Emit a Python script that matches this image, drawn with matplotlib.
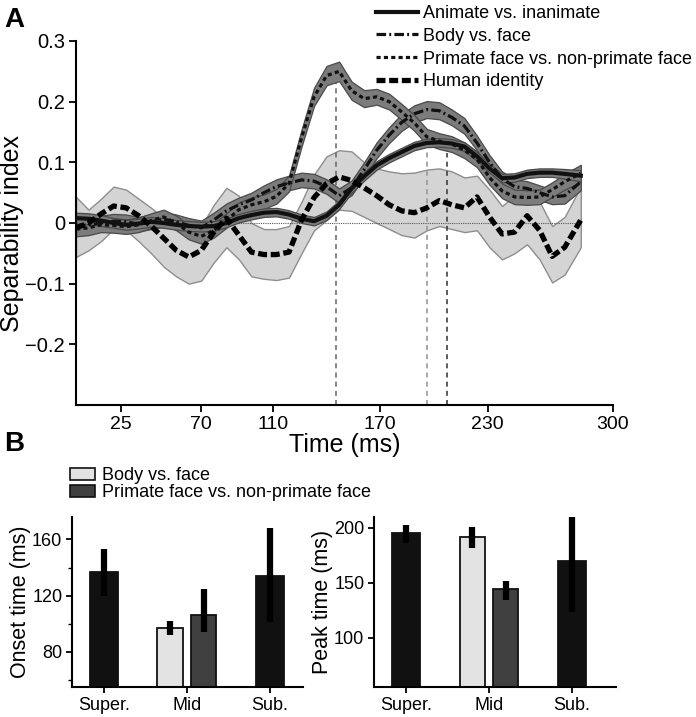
import matplotlib
matplotlib.use("Agg")
import matplotlib.pyplot as plt
from matplotlib.lines import Line2D
from matplotlib.patches import Patch
import numpy as np

plt.rcParams['font.family'] = ['Liberation Sans', 'DejaVu Sans']

# ---- panel A data (time in ms) ----
times = [0, 7, 14, 21, 28, 35, 42, 49, 56, 63, 70, 77, 84, 91, 98, 105, 112, 119, 126, 133,
         140, 147, 154, 161, 168, 175, 182, 189, 196, 203, 210, 217, 224, 231, 238, 245, 252,
         259, 266, 273, 282]

animate = [0.008, 0.007, 0.004, 0.0, -0.003, -0.001, 0.002, 0.0, -0.003, -0.005, -0.006, -0.005,
           0.0, 0.008, 0.013, 0.017, 0.018, 0.014, 0.007, 0.003, 0.012, 0.03, 0.057, 0.077, 0.095,
           0.107, 0.117, 0.127, 0.132, 0.133, 0.131, 0.126, 0.11, 0.09, 0.074, 0.075, 0.081, 0.083,
           0.083, 0.081, 0.078]
animate_ci = [0.009, 0.009, 0.009, 0.008, 0.008, 0.008, 0.008, 0.008, 0.008, 0.008, 0.008, 0.008,
              0.007, 0.007, 0.007, 0.007, 0.007, 0.007, 0.007, 0.007, 0.007, 0.007, 0.007, 0.007,
              0.007, 0.007, 0.007, 0.007, 0.007, 0.007, 0.007, 0.007, 0.007, 0.007, 0.007, 0.007,
              0.007, 0.007, 0.007, 0.008, 0.009]

body = [-0.005, -0.003, 0.0, 0.003, 0.002, -0.002, 0.002, 0.006, 0.002, -0.004, -0.008, 0.005,
        0.02, 0.03, 0.038, 0.05, 0.06, 0.066, 0.071, 0.069, 0.06, 0.045, 0.058, 0.088, 0.12,
        0.145, 0.166, 0.18, 0.187, 0.185, 0.174, 0.16, 0.132, 0.1, 0.073, 0.06, 0.057, 0.05,
        0.043, 0.045, 0.068]
body_ci = [0.012, 0.012, 0.012, 0.012, 0.012, 0.012, 0.012, 0.012, 0.012, 0.012, 0.012, 0.012,
           0.012, 0.012, 0.012, 0.012, 0.012, 0.012, 0.012, 0.012, 0.012, 0.012, 0.012, 0.012,
           0.013, 0.013, 0.014, 0.014, 0.014, 0.014, 0.013, 0.013, 0.012, 0.012, 0.012, 0.012,
           0.012, 0.012, 0.012, 0.013, 0.014]

primate = [-0.01, -0.008, -0.003, -0.004, -0.006, -0.003, 0.004, 0.01, 0.0, -0.015, -0.022,
           -0.012, 0.004, 0.022, 0.03, 0.035, 0.044, 0.065, 0.14, 0.208, 0.243, 0.25, 0.218,
           0.205, 0.208, 0.2, 0.183, 0.165, 0.142, 0.135, 0.13, 0.12, 0.105, 0.075, 0.053, 0.043,
           0.042, 0.043, 0.055, 0.068, 0.082]
primate_ci = [0.012, 0.012, 0.012, 0.012, 0.012, 0.012, 0.012, 0.012, 0.012, 0.012, 0.012, 0.012,
              0.012, 0.012, 0.012, 0.012, 0.012, 0.013, 0.014, 0.015, 0.016, 0.016, 0.015, 0.014,
              0.013, 0.013, 0.013, 0.013, 0.013, 0.013, 0.013, 0.013, 0.013, 0.012, 0.012, 0.012,
              0.012, 0.012, 0.012, 0.013, 0.014]

human = [-0.008, 0.0, 0.015, 0.028, 0.025, 0.012, -0.005, -0.025, -0.045, -0.056, -0.045,
         -0.015, 0.008, -0.02, -0.048, -0.052, -0.052, -0.048, 0.005, 0.042, 0.065, 0.076, 0.07,
         0.058, 0.045, 0.03, 0.02, 0.017, 0.025, 0.037, 0.03, 0.025, 0.043, 0.01, -0.018, -0.015,
         0.012, -0.012, -0.055, -0.04, 0.005]
human_upper = [0.043, 0.022, 0.04, 0.06, 0.055, 0.04, 0.025, 0.008, -0.005, -0.012, -0.005, 0.03,
               0.058, 0.045, 0.0, -0.01, -0.01, -0.005, 0.035, 0.08, 0.11, 0.12, 0.118, 0.1, 0.09,
               0.085, 0.082, 0.083, 0.088, 0.09, 0.085, 0.075, 0.078, 0.055, 0.028, 0.045, 0.06,
               0.035, -0.005, 0.01, 0.06]
human_lower = [-0.056, -0.045, -0.03, -0.01, -0.012, -0.03, -0.05, -0.072, -0.088, -0.1, -0.095,
               -0.065, -0.04, -0.06, -0.088, -0.092, -0.094, -0.09, -0.05, -0.012, 0.005, 0.022,
               0.02, 0.01, 0.0, -0.01, -0.02, -0.024, -0.012, -0.005, -0.01, -0.015, -0.012, -0.04,
               -0.06, -0.05, -0.035, -0.06, -0.098, -0.085, -0.04]

peak_times = [145, 196, 207]
peak_tops = [0.24, 0.12, 0.115]
peak_colors = ['#6e6e6e', '#9a9a9a', '#404040']

xticks_a = [25, 70, 110, 170, 230, 300]
yticks_a = [-0.2, -0.1, 0, 0.1, 0.2, 0.3]
yticklabels_a = ['\u22120.2', '\u22120.1', '0', '0.1', '0.2', '0.3']

legend_a = ['Animate vs. inanimate', 'Body vs. face',
            'Primate face vs. non-primate face', 'Human identity']

# ---- panel B data ----
categories = ['Super.', 'Mid', 'Sub.']
onset_super, onset_super_err = 137, (17, 16)
onset_body, onset_body_err = 97, (5, 5)
onset_primate, onset_primate_err = 106, (12, 19)
onset_sub, onset_sub_err = 134, (33, 34)

peak_super, peak_super_err = 195, (9, 8)
peak_body, peak_body_err = 192, (10, 9)
peak_primate, peak_primate_err = 144, (10, 8)
peak_sub, peak_sub_err = 170, (47, 45)

legend_b = ['Body vs. face', 'Primate face vs. non-primate face']

# ---- figure ----
fig = plt.figure(figsize=(6.96, 7.17), dpi=100)
W, H = 696.0, 717.0

axA = fig.add_axes([76 / W, 1 - 405 / H, 537 / W, 364 / H])
t = np.array(times)

axA.fill_between(t, human_lower, human_upper, facecolor='#d4d4d4', edgecolor='#8e8e8e',
                 linewidth=1.0, zorder=1)
axA.plot([0, 282], [0, 0], color='#555555', linestyle=(0, (1, 1)), linewidth=0.8, zorder=1.5)
for i in range(len(peak_times)):
    axA.plot([peak_times[i], peak_times[i]], [-0.3, peak_tops[i]], color=peak_colors[i],
             linestyle=(0, (3, 2.5)), linewidth=1.2, zorder=1.6)

for mean, ci in [(body, body_ci), (primate, primate_ci), (animate, animate_ci)]:
    m = np.array(mean)
    c = np.array(ci)
    axA.fill_between(t, m - c, m + c, facecolor='#7c7c7c', edgecolor='#4a4a4a',
                     linewidth=0.9, zorder=2)

style_animate = dict(color='#111111', linestyle='-', linewidth=3.0)
style_body = dict(color='#111111', linestyle=(0, (3, 1.0, 0.6, 1.0)), linewidth=2.3)
style_primate = dict(color='#111111', linestyle=(0, (1.3, 1.0)), linewidth=2.3)
style_human = dict(color='#000000', linestyle=(0, (1.7, 0.7)), linewidth=3.8)

axA.plot(t, animate, zorder=3, **style_animate)
axA.plot(t, body, zorder=3, **style_body)
axA.plot(t, primate, zorder=3, **style_primate)
axA.plot(t, human, zorder=4, **style_human)

axA.set_xlim(0, 300)
axA.set_ylim(-0.3, 0.3)
axA.set_xticks(xticks_a)
axA.set_xticklabels([str(v) for v in xticks_a], fontsize=14)
axA.set_yticks(yticks_a)
axA.set_yticklabels(yticklabels_a, fontsize=14.5)
axA.spines['top'].set_visible(False)
axA.spines['right'].set_visible(False)
for s in ['left', 'bottom']:
    axA.spines[s].set_linewidth(1.5)
axA.tick_params(width=1.3, length=5, pad=3)
axA.set_xlabel('Time (ms)', fontsize=18, labelpad=0)
axA.set_ylabel('Separability index', fontsize=18)
axA.yaxis.set_label_coords((24 - 76) / 537, (405 - 233) / 364)

handles_a = [Line2D([], [], **style_animate), Line2D([], [], **style_body),
             Line2D([], [], **style_primate), Line2D([], [], **style_human)]
axA.legend(handles_a, legend_a, loc='upper left', bbox_to_anchor=(376 / W, 1 - 5 / H),
           bbox_transform=fig.transFigure, frameon=False, fontsize=13,
           handlelength=2.3, handletextpad=0.3, labelspacing=0.32, borderpad=0,
           borderaxespad=0)

fig.text(4 / W, 1 - 27 / H, 'A', fontsize=20, fontweight='bold')
fig.text(4 / W, 1 - 451 / H, 'B', fontsize=20, fontweight='bold')

# ---- panel B ----
dark = '#111111'
light = '#e3e3e3'
mid = '#404040'


def bar_panel(ax, vals, errs, ylim, yticks, minor, ylabel):
    xs = [0, 1 - 0.2, 1 + 0.2, 2]
    widths = [0.34, 0.31, 0.31, 0.34]
    colors = [dark, light, mid, dark]
    ax.bar(xs, vals, width=widths, color=colors, edgecolor='#111111', linewidth=1.3, zorder=2)
    lo = [e[0] for e in errs]
    hi = [e[1] for e in errs]
    ax.errorbar(xs, vals, yerr=[lo, hi], fmt='none', ecolor='#000000', elinewidth=4.5,
                capsize=0, zorder=3)
    ax.set_ylim(*ylim)
    ax.set_yticks(yticks)
    ax.set_yticklabels([str(v) for v in yticks], fontsize=13)
    if minor:
        ax.set_yticks(minor, minor=True)
    ax.set_xticks([0, 1, 2])
    ax.set_xticklabels(categories, fontsize=13)
    ax.spines['top'].set_visible(False)
    ax.spines['right'].set_visible(False)
    for s in ['left', 'bottom']:
        ax.spines[s].set_linewidth(1.5)
    ax.tick_params(width=1.3, length=4, pad=3)
    ax.tick_params(which='minor', width=1.0, length=3)
    ax.set_ylabel(ylabel, fontsize=15.5, labelpad=1)


axB1 = fig.add_axes([72 / W, 1 - 687 / H, 231 / W, 170 / H])
bar_panel(axB1, [onset_super, onset_body, onset_primate, onset_sub],
          [onset_super_err, onset_body_err, onset_primate_err, onset_sub_err],
          (55, 176), [80, 120, 160], [60, 100, 140], 'Onset time (ms)')
axB1.set_xlim(-0.386, 2.4)

axB2 = fig.add_axes([374 / W, 1 - 687 / H, 242 / W, 170 / H])
bar_panel(axB2, [peak_super, peak_body, peak_primate, peak_sub],
          [peak_super_err, peak_body_err, peak_primate_err, peak_sub_err],
          (55, 210), [100, 150, 200], None, 'Peak time (ms)')
axB2.set_xlim(-0.386, 2.53)

handles_b = [Patch(facecolor=light, edgecolor='#111111', linewidth=1.2),
             Patch(facecolor=mid, edgecolor='#111111', linewidth=1.2)]
fig.legend(handles_b, legend_b, loc='upper left', bbox_to_anchor=(70 / W, 1 - 467 / H),
           frameon=False, fontsize=13, handlelength=1.4, handleheight=0.65,
           handletextpad=0.35, labelspacing=0.0, borderpad=0, borderaxespad=0)

fig.savefig('out.png', dpi=100)
